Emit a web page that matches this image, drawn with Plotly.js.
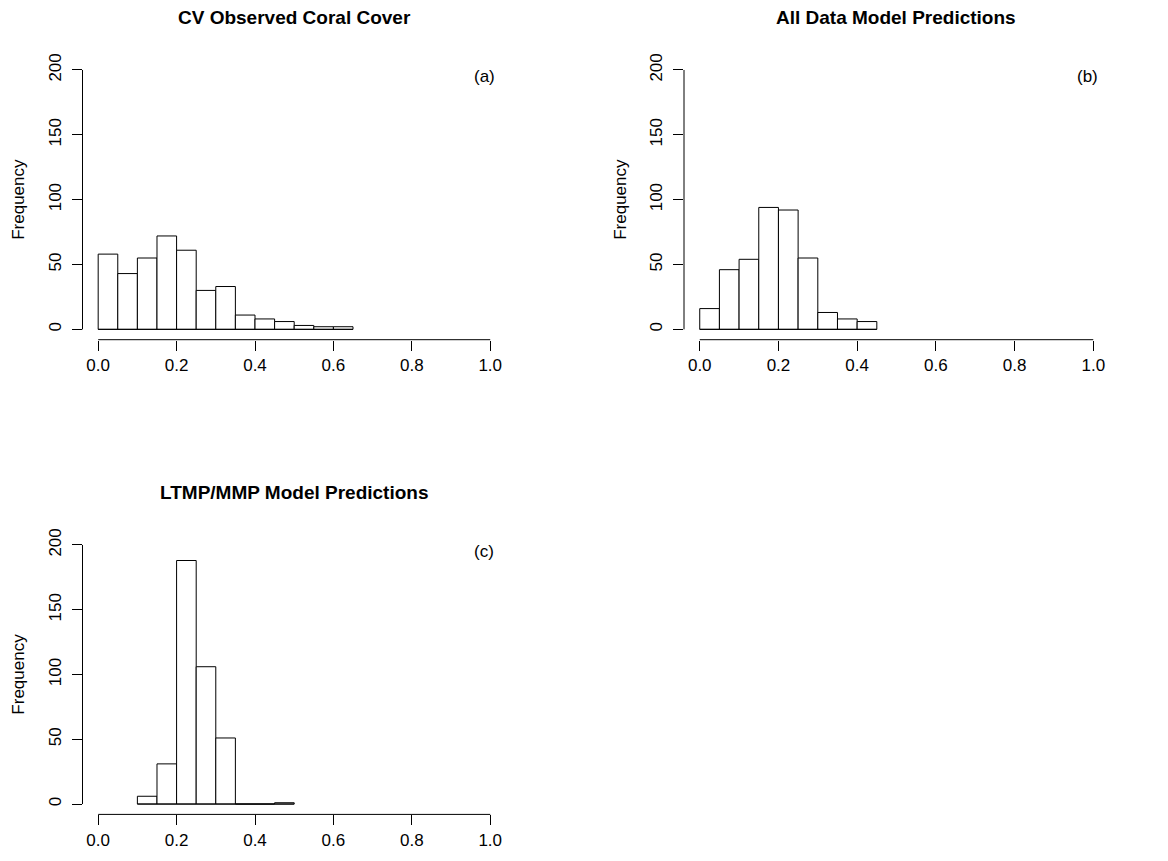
<!DOCTYPE html>
<html>
<head>
<meta charset="utf-8">
<script src="https://cdn.plot.ly/plotly-3.0.1.min.js"></script>
<style>html,body{margin:0;padding:0;background:#fff;}#chart{width:1168px;height:861px;}</style>
</head>
<body>
<div id="chart"></div>
<script>
// ---- data ----
const binWidth = 0.05;
const binStartsA = [0.00, 0.05, 0.10, 0.15, 0.20, 0.25, 0.30, 0.35, 0.40, 0.45, 0.50, 0.55, 0.60];
const countsA    = [58, 43, 55, 72, 61, 30, 33, 11, 8, 6, 3, 2, 2];
const binStartsB = [0.00, 0.05, 0.10, 0.15, 0.20, 0.25, 0.30, 0.35, 0.40];
const countsB    = [16, 46, 54, 94, 92, 55, 13, 8, 6];
const binStartsC = [0.10, 0.15, 0.20, 0.25, 0.30, 0.35, 0.40, 0.45];
const countsC    = [6, 31, 188, 106, 51, 0, 0, 1];
const titles = ["CV Observed Coral Cover", "All Data Model Predictions", "LTMP/MMP Model Predictions"];
const panelTags = ["(a)", "(b)", "(c)"];
const yLabel = "Frequency";
const xTicks = [0.0, 0.2, 0.4, 0.6, 0.8, 1.0];
const yTicks = [0, 50, 100, 150, 200];

const FONT = "Liberation Sans, Arial, Helvetica, sans-serif";
const W = 1168, H = 861;

// panel geometry in pixels: [left, right, top, bottom]
const panels = [
  {starts: binStartsA, counts: countsA, px: [82.5, 505.9, 59.6, 339.7], titleY: 17.5},
  {starts: binStartsB, counts: countsB, px: [684, 1109, 59.6, 339.7], titleY: 17.5},
  {starts: binStartsC, counts: countsC, px: [82.5, 505.9, 534.6, 814.4], titleY: 493}
];

const data = [];
const layout = {
  width: W, height: H,
  margin: {l: 0, r: 0, t: 0, b: 0},
  paper_bgcolor: "#fff", plot_bgcolor: "#fff",
  showlegend: false,
  font: {family: FONT, color: "#000", size: 17},
  annotations: [], shapes: []
};

panels.forEach((p, i) => {
  const n = i + 1;
  const xa = "x" + (n === 1 ? "" : n), ya = "y" + (n === 1 ? "" : n);
  const xkey = "xaxis" + (n === 1 ? "" : n), ykey = "yaxis" + (n === 1 ? "" : n);
  const mids = p.starts.map(s => s + binWidth / 2);
  data.push({
    type: "bar", x: mids, y: p.counts, width: p.starts.map(() => binWidth),
    xaxis: xa, yaxis: ya,
    marker: {color: "#ffffff", line: {color: "#000", width: 1}},
    hoverinfo: "skip"
  });
  // bottoms of all histogram rectangles (zero-count bins show only this line)
  data.push({
    type: "scatter", mode: "lines",
    x: [p.starts[0], p.starts[p.starts.length - 1] + binWidth], y: [0, 0],
    xaxis: xa, yaxis: ya, line: {color: "#000", width: 1}, hoverinfo: "skip"
  });
  const [l, r, t, b] = p.px;
  layout[xkey] = {
    domain: [l / W, r / W], anchor: ya, range: [-0.04, 1.04],
    tickvals: xTicks, tickformat: ".1f", ticks: "outside", ticklen: 10, tickwidth: 1, tickcolor: "#000",
    showgrid: false, zeroline: false, showline: false, fixedrange: true,
    tickfont: {family: FONT, size: 17, color: "#000"}, ticklabelstandoff: 0
  };
  layout[ykey] = {
    domain: [1 - b / H, 1 - t / H], anchor: xa, range: [-8, 208],
    tickvals: yTicks, tickangle: -90, ticks: "outside", ticklen: 10, tickwidth: 1, tickcolor: "#000",
    showgrid: false, zeroline: false, showline: false, fixedrange: true,
    tickfont: {family: FONT, size: 17, color: "#000"}, ticklabelstandoff: 4,
    title: {text: yLabel, font: {family: FONT, size: 17, color: "#000"}, standoff: 16}
  };
  // R-style axis lines spanning only first..last tick
  layout.shapes.push({type: "line", xref: xa, yref: ya + " domain",
    x0: xTicks[0], x1: xTicks[xTicks.length - 1], y0: 0, y1: 0, line: {color: "#000", width: 1}});
  layout.shapes.push({type: "line", xref: xa + " domain", yref: ya,
    x0: 0, x1: 0, y0: yTicks[0], y1: yTicks[yTicks.length - 1], line: {color: "#000", width: 1}});
  layout.annotations.push({
    text: "<b>" + titles[i] + "</b>", xref: "paper", yref: "paper",
    x: ((l + r) / 2) / W, y: 1 - p.titleY / H, xanchor: "center", yanchor: "middle",
    showarrow: false, font: {family: FONT, size: 19, color: "#000"}
  });
  layout.annotations.push({
    text: panelTags[i], xref: xa, yref: ya, x: 0.985, y: 195,
    xanchor: "center", yanchor: "middle", showarrow: false,
    font: {family: FONT, size: 17, color: "#000"}
  });
});

Plotly.newPlot("chart", data, layout, {displayModeBar: false, staticPlot: true});
</script>
</body>
</html>
